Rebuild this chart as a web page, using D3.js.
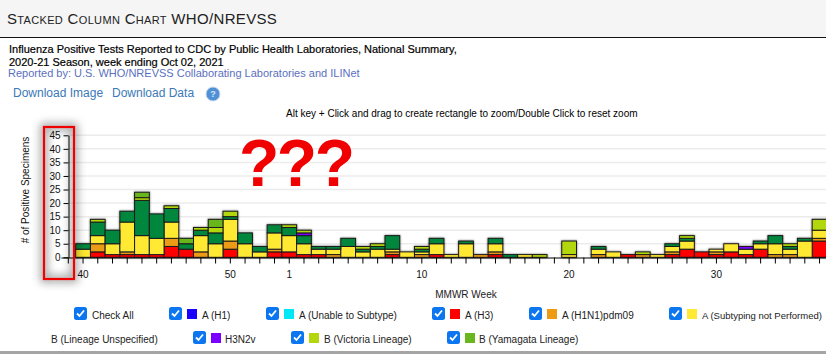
<!DOCTYPE html>
<html>
<head>
<meta charset="utf-8">
<script src="https://cdn.jsdelivr.net/npm/d3@7"></script>
<style>
  html, body { margin: 0; padding: 0; background: #fff; overflow: hidden; }
  svg { display: block; font-family: "Liberation Sans", Arial, sans-serif; }
</style>
</head>
<body>
<div id="container"></div>
<script>
/* DATA */
const weeks = [40,41,42,43,44,45,46,47,48,49,50,51,52,53,1,2,3,4,5,6,7,8,9,10,11,12,13,14,15,16,17,18,19,20,21,22,23,24,25,26,27,28,29,30,31,32,33,34,35,36,37];
const labelledWeeks = [40,50,1,10,20,30];
const yTicks = [0,5,10,15,20,25,30,35,40,45];

const h1 = [0,0,0,0,0,0,0,0,0,0,0,0,0,0,0,0,0,0,0,0,0,0,0,0,0,0,0,0,0,0,0,0,0,0,0,0,0,0,0,0,0,0,0,0,0,0,0,0,0,0,0];
const unable = [0,0,0,0,0,0,0,0,0,0,0,0,0,0,0,0,0,0,0,0,0,0,0,0,0,0,0,0,0,0,0,0,0,0,0,0,0,0,0,0,0,0,0,0,0,0,0,0,0,0,0];
const h3 = [0,2,1,1,1,1,4,3,0,0,3,0,0,2,2,1,1,0,0,0,0,1,0,0,1,0,0,0,1,0,0,0,0,0,0,0,0,1,0,0,1,3,2,1,2,1,3,0,0,0,6];
const pdm09 = [0,3,0,1,0,0,3,0,2,0,3,0,0,1,0,0,0,1,0,0,0,1,0,1,0,0,0,1,1,0,0,0,0,0,0,1,0,0,1,0,1,0,0,1,0,0,0,1,1,0,1];
const notSubtyped = [3,3,4,11,7,6,6,0,6,5,8,5,2,6,6,4,2,2,4,2,3,1,2,1,4,1,5,0,3,0,1,0,0,1,0,2,2,0,0,1,2,3,0,1,3,2,2,4,2,6,3];
const bUnspecified = [2,5,5,4,13,9,5,2,2,4,1,4,2,3,3,3,1,1,3,1,1,5,0,1,2,0,1,0,2,1,0,0,0,0,0,1,0,0,0,0,1,1,0,0,0,0,1,3,1,1,0];
const h3n2v = [0,0,0,0,0,0,0,0,0,0,0,0,0,0,0,1,0,0,0,0,0,0,0,0,0,0,0,0,0,0,0,0,0,0,0,0,0,0,0,0,0,0,0,0,0,1,0,0,0,0,0];
const victoria = [0,1,0,0,1,0,1,0,1,2,2,0,0,0,1,1,0,0,0,1,1,0,0,1,0,0,0,0,0,0,0,1,0,5,0,0,0,0,1,0,0,1,0,0,0,0,0,0,1,0,4];
const yamagata = [0,0,0,0,2,0,0,2,0,3,0,0,0,0,0,0,0,0,0,0,0,0,0,0,0,0,0,0,0,0,0,0,0,0,0,0,0,0,0,0,0,0,0,0,0,0,0,0,0,0,0];

const seriesKeys = ["h1","unable","h3","pdm09","notSubtyped","bUnspecified","h3n2v","victoria","yamagata"];
const seriesValues = [h1,unable,h3,pdm09,notSubtyped,bUnspecified,h3n2v,victoria,yamagata];
const seriesNames = ["A (H1)","A (Unable to Subtype)","A (H3)","A (H1N1)pdm09","A (Subtyping not Performed)","B (Lineage Unspecified)","H3N2v","B (Victoria Lineage)","B (Yamagata Lineage)"];
const seriesColors = ["#1a00ff","#00e8f8","#ff0000","#ec9b12","#ffe933","#00873c","#7a00ff","#b3d70c","#69b61e"];

/* CONSTANTS AND GLOBALS */
const width = 826;
const height = 354;

const svg = d3.select("#container")
  .append("svg")
  .attr("width", width)
  .attr("height", height);

const defs = svg.append("defs");
defs.append("filter").attr("id", "blur")
  .attr("x", "-50%").attr("y", "-20%").attr("width", "200%").attr("height", "140%")
  .append("feGaussianBlur").attr("stdDeviation", 4);
defs.append("filter").attr("id", "halo")
  .append("feDropShadow")
  .attr("dx", 0).attr("dy", 0).attr("stdDeviation", 0.9)
  .attr("flood-color", "#000").attr("flood-opacity", 0.55);

/* PAGE HEADER */
svg.append("rect").attr("width", width).attr("height", 37).attr("fill", "#f5f5f5");
svg.append("line").attr("x1", 0).attr("x2", width).attr("y1", 37.5).attr("y2", 37.5).attr("stroke", "#111");

svg.append("text")
  .attr("x", 7).attr("y", 24)
  .attr("font-size", 15)
  .attr("fill", "#222")
  .style("font-variant", "small-caps")
  .style("letter-spacing", "0.33px")
  .text("Stacked Column Chart WHO/NREVSS");

svg.append("text").attr("x", 9).attr("y", 53).attr("font-size", 11).attr("fill", "#000")
  .attr("stroke", "#000").attr("stroke-width", 0.2)
  .text("Influenza Positive Tests Reported to CDC by Public Health Laboratories, National Summary,");
svg.append("text").attr("x", 9).attr("y", 66).attr("font-size", 11).attr("fill", "#000")
  .attr("stroke", "#000").attr("stroke-width", 0.2)
  .text("2020-21 Season, week ending Oct 02, 2021");
svg.append("text").attr("x", 8).attr("y", 77).attr("font-size", 11).attr("fill", "#5a6fc0")
  .text("Reported by: U.S. WHO/NREVSS Collaborating Laboratories and ILINet");

svg.append("text").attr("x", 13).attr("y", 97).attr("font-size", 12).attr("fill", "#3a78b8")
  .text("Download Image");
svg.append("text").attr("x", 112).attr("y", 97).attr("font-size", 12).attr("fill", "#3a78b8")
  .text("Download Data");
svg.append("circle").attr("cx", 213).attr("cy", 94).attr("r", 7).attr("fill", "#4f90d6").attr("stroke", "#c8d8ea");
svg.append("text").attr("x", 213).attr("y", 97).attr("text-anchor", "middle")
  .attr("font-size", 9).attr("font-weight", "bold").attr("fill", "#dbe8f6").text("?");

svg.append("text").attr("x", 286).attr("y", 117).attr("font-size", 10).attr("fill", "#000")
  .text("Alt key + Click and drag to create rectangle to zoom/Double Click to reset zoom");

/* SCALES */
const bandDomain = [""].concat(weeks.map(String));
const xScale = d3.scaleBand()
  .domain(bandDomain)
  .range([60.94, 826.9])
  .padding(0);

const yScale = d3.scaleLinear()
  .domain([0, 45])
  .range([257.3, 135.3]);

/* GRID */
svg.append("g").selectAll("line")
  .data(yTicks.slice(1))
  .join("line")
  .attr("x1", 68).attr("x2", width)
  .attr("y1", d => yScale(d)).attr("y2", d => yScale(d))
  .attr("stroke", "#ececec").attr("stroke-width", 1.5);

/* BARS */
const rows = weeks.map((w, i) => {
  const row = { week: String(w) };
  seriesKeys.forEach((k, j) => { row[k] = seriesValues[j][i]; });
  return row;
});
const stacked = d3.stack().keys(seriesKeys)(rows);

svg.append("g")
  .attr("filter", "url(#halo)")
  .selectAll("g")
  .data(stacked)
  .join("g")
  .attr("fill", (d, i) => seriesColors[i])
  .selectAll("rect")
  .data(d => d.filter(s => s[1] > s[0]))
  .join("rect")
  .attr("x", d => xScale(d.data.week))
  .attr("y", d => yScale(d[1]))
  .attr("width", xScale.bandwidth())
  .attr("height", d => yScale(d[0]) - yScale(d[1]))
  .attr("stroke", "#1a1a1a")
  .attr("stroke-width", 1);

/* AXES */
const yAxis = d3.axisLeft(yScale).tickValues(yTicks).tickSize(5).tickPadding(3).tickSizeOuter(0);
const yG = svg.append("g").attr("transform", "translate(68.5,0)").call(yAxis);
yG.selectAll("text").attr("font-size", 10).attr("font-family", "inherit").attr("fill", "#111");

const xAxis = d3.axisBottom(xScale)
  .tickSize(6).tickSizeOuter(0).tickPadding(7)
  .tickFormat(d => labelledWeeks.includes(+d) ? d : "");
const xG = svg.append("g").attr("transform", "translate(0,257.5)").call(xAxis);
xG.selectAll("text").attr("font-size", 10).attr("font-family", "inherit").attr("fill", "#111");

svg.append("text")
  .attr("transform", "translate(29,190) rotate(-90)")
  .attr("text-anchor", "middle")
  .attr("font-size", 10).attr("fill", "#111")
  .text("# of Positive Specimens");

svg.append("text").attr("x", 466).attr("y", 298).attr("text-anchor", "middle")
  .attr("font-size", 10).attr("fill", "#222").text("MMWR Week");

/* RED ANNOTATION */
svg.append("rect").attr("x", 44).attr("y", 127).attr("width", 30).attr("height", 152)
  .attr("fill", "none").attr("stroke", "#000").attr("stroke-opacity", 0.38)
  .attr("stroke-width", 7).attr("filter", "url(#blur)");
svg.append("rect").attr("x", 44).attr("y", 127).attr("width", 30).attr("height", 152)
  .attr("fill", "none").attr("stroke", "#f00000").attr("stroke-width", 2.2);

svg.append("text").attr("x", 239).attr("y", 186)
  .attr("font-size", 66).attr("font-weight", "bold").attr("fill", "#f00000")
  .style("letter-spacing", "-2.5px")
  .text("???");

/* LEGEND */
const legendRow1 = 320;
const legendRow2 = 344;
const legendItems = [
  { name: "Check All", box: 74, text: 92, base: legendRow1 },
  { name: seriesNames[0], box: 169, swatch: 187, text: 202, base: legendRow1, color: seriesColors[0] },
  { name: seriesNames[1], box: 266, swatch: 284, text: 299, base: legendRow1, color: seriesColors[1] },
  { name: seriesNames[2], box: 432, swatch: 450, text: 465, base: legendRow1, color: seriesColors[2] },
  { name: seriesNames[3], box: 529, swatch: 547, text: 562, base: legendRow1, color: seriesColors[3] },
  { name: seriesNames[4], box: 669, swatch: 687, text: 702, base: legendRow1, color: seriesColors[4], size: 9.5 },
  { name: seriesNames[5], text: 51, base: legendRow2 },
  { name: seriesNames[6], box: 193, swatch: 211, text: 225, base: legendRow2, color: seriesColors[6] },
  { name: seriesNames[7], box: 291, swatch: 309, text: 324, base: legendRow2, color: seriesColors[7] },
  { name: seriesNames[8], box: 447, swatch: 465, text: 479, base: legendRow2, color: seriesColors[8] }
];

const legend = svg.append("g").selectAll("g").data(legendItems).join("g");

legend.filter(d => d.box !== undefined).append("rect")
  .attr("x", d => d.box).attr("y", d => d.base - 13)
  .attr("width", 13).attr("height", 13).attr("rx", 2.5)
  .attr("fill", "#0b76f0");
legend.filter(d => d.box !== undefined).append("path")
  .attr("d", d => `M${d.box + 3},${d.base - 6.5} l2.5,2.5 l4.5,-5.5`)
  .attr("fill", "none").attr("stroke", "#fff").attr("stroke-width", 1.8);
legend.filter(d => d.swatch !== undefined).append("rect")
  .attr("x", d => d.swatch).attr("y", d => d.base - 11)
  .attr("width", 10).attr("height", 10)
  .attr("fill", d => d.color);
legend.append("text")
  .attr("x", d => d.text).attr("y", d => d.base - 1)
  .attr("font-size", d => d.size || 10).attr("fill", "#222")
  .text(d => d.name);

/* BOTTOM EDGE */
svg.append("rect").attr("x", 0).attr("y", 351).attr("width", width).attr("height", 3).attr("fill", "#a5a5a5");
</script>
</body>
</html>
